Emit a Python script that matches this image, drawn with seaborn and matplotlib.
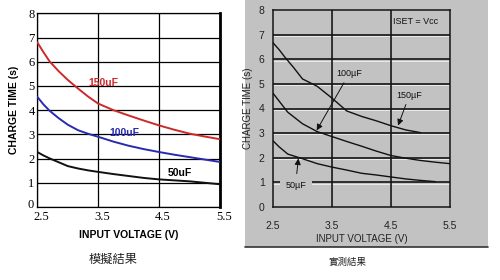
import matplotlib
matplotlib.use("Agg")
import matplotlib.pyplot as plt
import matplotlib.transforms as mtrans
from matplotlib.patches import Rectangle
from matplotlib.lines import Line2D
import numpy as np
import pandas as pd
import seaborn as sns

# ---------------- data: simulated (left) ----------------
sim_v = [2.5, 2.6, 2.7, 2.85, 3.0, 3.17, 3.34, 3.5, 3.75, 4.0, 4.25, 4.5, 4.75, 5.0, 5.25, 5.5]
sim_150 = [6.80, 6.40, 6.02, 5.61, 5.25, 4.89, 4.55, 4.27, 4.00, 3.78, 3.57, 3.37, 3.19, 3.03, 2.91, 2.80]
sim_100 = [4.55, 4.24, 3.98, 3.67, 3.40, 3.17, 3.02, 2.90, 2.70, 2.53, 2.39, 2.27, 2.16, 2.06, 1.96, 1.86]
sim_50 = [2.27, 2.13, 2.01, 1.85, 1.69, 1.59, 1.51, 1.45, 1.36, 1.28, 1.20, 1.14, 1.10, 1.06, 1.00, 0.94]

# ---------------- data: measured (right) ----------------
meas_v150 = [2.5, 2.6, 2.7, 2.85, 3.0, 3.25, 3.5, 3.75, 4.0, 4.25, 4.5, 4.75, 5.0]
meas_150 = [6.67, 6.40, 6.09, 5.66, 5.20, 4.90, 4.42, 3.90, 3.68, 3.50, 3.30, 3.13, 3.02]
meas_v100 = [2.5, 2.75, 3.0, 3.25, 3.5, 3.75, 4.0, 4.25, 4.5, 4.75, 5.0, 5.25, 5.5]
meas_100 = [4.62, 3.85, 3.38, 3.06, 2.86, 2.66, 2.47, 2.27, 2.09, 1.98, 1.89, 1.82, 1.76]
meas_v50 = [2.5, 2.6, 2.75, 3.0, 3.25, 3.5, 3.75, 4.0, 4.25, 4.5, 4.75, 5.0, 5.25]
meas_50 = [2.69, 2.45, 2.15, 1.96, 1.76, 1.62, 1.50, 1.37, 1.30, 1.22, 1.14, 1.08, 1.03]

x_ticks = [2.5, 3.5, 4.5, 5.5]
x_ticklabels = ["2.5", "3.5", "4.5", "5.5"]
y_ticks = [0, 1, 2, 3, 4, 5, 6, 7, 8]

sns.set_theme(style="white")
plt.rcParams["font.family"] = ["Liberation Sans", "Noto Sans CJK TC", "DejaVu Sans"]

W, H = 500, 280
fig = plt.figure(figsize=(W / 100, H / 100), dpi=100)
fig.patch.set_facecolor("white")

def fx(px):
    return px / W

def fy(py):
    return 1 - py / H

# gray panel behind right chart
panel_gray = "#c2c2c2"
fig.patches.append(Rectangle((fx(245), fy(247)), fx(488) - fx(245), fy(0) - fy(247),
                             transform=fig.transFigure, facecolor=panel_gray,
                             edgecolor="none", zorder=-2))
fig.lines.append(Line2D([fx(245), fx(488)], [fy(247), fy(247)], transform=fig.transFigure,
                        color="#333333", lw=1.2, zorder=-1))

# ================= LEFT CHART =================
axL = fig.add_axes([fx(37.3), fy(207), fx(220) - fx(37.3), fy(13.3) - fy(207)])
axL.set_facecolor("white")
dfL = pd.DataFrame({
    "v": sim_v * 3,
    "t": sim_150 + sim_100 + sim_50,
    "c": ["150uF"] * len(sim_v) + ["100uF"] * len(sim_v) + ["50uF"] * len(sim_v),
})
sns.lineplot(data=dfL, x="v", y="t", hue="c",
             palette={"150uF": "#cc2a2a", "100uF": "#2a2ab0", "50uF": "#111111"},
             lw=1.4, legend=False, ax=axL, zorder=3)
axL.set_xlim(2.5, 5.5)
axL.set_ylim(0, 8)
axL.set_xticks(x_ticks)
axL.set_xticklabels(x_ticklabels)
axL.set_yticks(y_ticks)
axL.grid(True, color="black", lw=0.9)
axL.tick_params(length=0, pad=2)
x_shift = mtrans.ScaledTranslation(4 / 100, -1 / 100, fig.dpi_scale_trans)
for lab in axL.get_xticklabels():
    lab.set_transform(lab.get_transform() + x_shift)
zero_shift = mtrans.ScaledTranslation(-1 / 100, 3 / 100, fig.dpi_scale_trans)
ylabs = axL.get_yticklabels()
ylabs[0].set_transform(ylabs[0].get_transform() + zero_shift)
for lab in axL.get_xticklabels() + axL.get_yticklabels():
    lab.set_fontfamily("Liberation Serif")
    lab.set_fontsize(9)
    lab.set_color("black")
for s in ["top", "bottom", "left"]:
    axL.spines[s].set_color("black")
    axL.spines[s].set_linewidth(0.9)
axL.spines["right"].set_color("black")
axL.spines["right"].set_linewidth(2.0)
axL.set_xlabel("INPUT VOLTAGE (V)", fontsize=7.5, fontweight="bold", color="black", labelpad=5)
axL.set_ylabel("CHARGE TIME (s)", fontsize=7.5, fontweight="bold", color="black", labelpad=6)
axL.text(3.59, 5.11, "150uF", color="#cc2a2a", fontsize=7.5, fontweight="bold",
         ha="center", va="center", zorder=4)
axL.text(3.93, 3.05, "100uF", color="#2a2ab0", fontsize=7.5, fontweight="bold",
         ha="center", va="center", zorder=4)
axL.text(4.84, 1.39, "50uF", color="black", fontsize=7.5, fontweight="bold",
         ha="center", va="center", zorder=4)

fig.text(fx(113), fy(259), "模擬結果", fontsize=8.8, color="#222222",
         ha="center", va="center", family=["Noto Sans CJK TC", "DejaVu Sans"])

# ================= RIGHT CHART =================
axR = fig.add_axes([fx(273), fy(207), fx(450) - fx(273), fy(10) - fy(207)])
axR.set_facecolor(panel_gray)
dfR = pd.DataFrame({
    "v": meas_v150 + meas_v100 + meas_v50,
    "t": meas_150 + meas_100 + meas_50,
    "c": ["150"] * len(meas_v150) + ["100"] * len(meas_v100) + ["50"] * len(meas_v50),
})
sns.lineplot(data=dfR, x="v", y="t", hue="c",
             palette={"150": "#111111", "100": "#111111", "50": "#111111"},
             lw=1.0, legend=False, ax=axR, zorder=3)
axR.set_xlim(2.5, 5.5)
axR.set_ylim(0, 8)
axR.set_xticks(x_ticks)
axR.set_xticklabels(x_ticklabels)
axR.set_yticks(y_ticks)
axR.grid(False)
# grid lines with a light emboss line
hl_off = mtrans.ScaledTranslation(0, -1.3 / 100, fig.dpi_scale_trans)
vl_off = mtrans.ScaledTranslation(-1.3 / 100, 0, fig.dpi_scale_trans)
for yv in y_ticks[1:-1]:
    ln = axR.axhline(yv, color="#ececec", lw=0.7, zorder=1)
    ln.set_transform(axR.get_yaxis_transform() + hl_off)
    axR.axhline(yv, color="#151515", lw=1.2, zorder=2)
for xv in x_ticks[1:-1]:
    ln = axR.axvline(xv, color="#ececec", lw=0.7, zorder=1)
    ln.set_transform(axR.get_xaxis_transform() + vl_off)
    axR.axvline(xv, color="#151515", lw=1.2, zorder=2)
axR.tick_params(length=0)
axR.tick_params(axis="x", pad=10)
axR.tick_params(axis="y", pad=6)
for lab in axR.get_xticklabels() + axR.get_yticklabels():
    lab.set_fontsize(7.5)
    lab.set_color("#222222")
for s in axR.spines.values():
    s.set_color("#151515")
    s.set_linewidth(1.1)
axR.set_xlabel("INPUT VOLTAGE (V)", fontsize=7, color="#222222", labelpad=2)
axR.set_ylabel("CHARGE TIME (s)", fontsize=7, color="#222222", labelpad=4)

axR.text(4.92, 7.55, "ISET = Vcc", fontsize=6.5, color="#111111", ha="center", va="center")
arrow = dict(arrowstyle="-|>", color="#111111", lw=0.7, mutation_scale=9, shrinkA=1, shrinkB=0)
axR.annotate("100µF", xy=(3.24, 3.11), xytext=(3.79, 5.41), fontsize=6.5, color="#111111",
             ha="center", va="center", arrowprops=arrow, zorder=5)
axR.annotate("150µF", xy=(4.62, 3.31), xytext=(4.81, 4.53), fontsize=6.5, color="#111111",
             ha="center", va="center", arrowprops=arrow, zorder=5)
axR.annotate("", xy=(2.93, 1.97), xytext=(2.90, 1.30), arrowprops=arrow, zorder=5)
axR.text(2.89, 0.87, "50µF", fontsize=6.5, color="#111111", ha="center", va="center", zorder=5,
         bbox=dict(boxstyle="square,pad=0.6", facecolor=panel_gray, edgecolor="none"))

fig.text(fx(348), fy(262), "實測結果", fontsize=6.8, color="#222222",
         ha="center", va="center", family=["Noto Sans CJK TC", "DejaVu Sans"])

fig.savefig("out.png", dpi=100)
